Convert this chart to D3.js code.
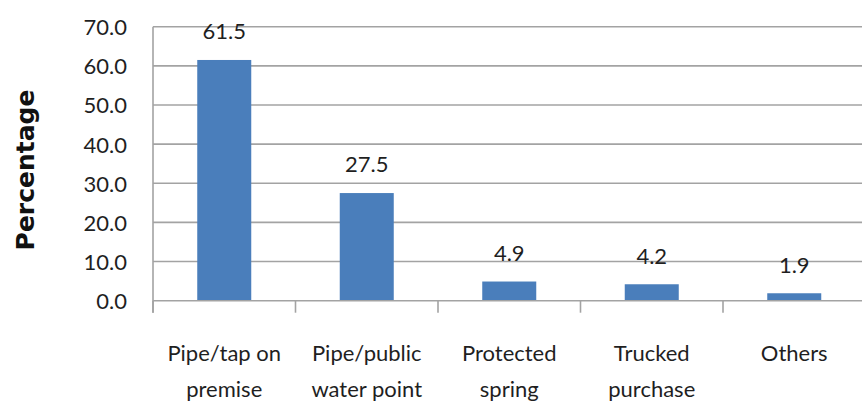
<!DOCTYPE html>
<html>
<head>
<meta charset="utf-8">
<script src="https://cdn.jsdelivr.net/npm/d3@7"></script>
<style>
  html, body { margin: 0; padding: 0; background: #fff; }
  svg { display: block; }
</style>
</head>
<body>
<svg id="chart" width="862" height="403"></svg>
<script>
// Main source of drinking water (% of households)
const categories = [
  ["Pipe/tap on", "premise"],
  ["Pipe/public", "water point"],
  ["Protected", "spring"],
  ["Trucked", "purchase"],
  ["Others"]
];
const values = [61.5, 27.5, 4.9, 4.2, 1.9];
const yTicks = [0, 10, 20, 30, 40, 50, 60, 70];
const yTitle = "Percentage";

const svg = d3.select("#chart");
const fontFamily = "Lato, 'Open Sans', sans-serif";

const plot = { left: 153, right: 865.5, top: 26.7, bottom: 300.7 };

const x = d3.scaleBand()
  .domain(d3.range(categories.length))
  .range([plot.left, plot.right])
  .paddingInner(0.621)
  .paddingOuter(0.3105);

const y = d3.scaleLinear()
  .domain([0, 70])
  .range([plot.bottom, plot.top]);

const gridColor = "#a3a3a3";
const textColor = "#1f1f1f";

// Horizontal gridlines
svg.append("g")
  .selectAll("line")
  .data(yTicks.filter(d => d > 0))
  .join("line")
  .attr("x1", plot.left)
  .attr("x2", 862)
  .attr("y1", d => y(d))
  .attr("y2", d => y(d))
  .attr("stroke", gridColor)
  .attr("stroke-width", 1.6);

// Y axis (labels only, line drawn separately)
const yAxis = svg.append("g")
  .attr("transform", `translate(${plot.left - 26},0)`)
  .call(d3.axisLeft(y).tickValues(yTicks).tickFormat(d3.format(".1f")).tickSize(0).tickPadding(0));
yAxis.select(".domain").remove();
yAxis.selectAll("text")
  .attr("font-family", fontFamily)
  .attr("font-size", 22)
  .attr("fill", textColor)
  .attr("dy", "0.36em");

// Bars
svg.append("g")
  .selectAll("rect")
  .data(values)
  .join("rect")
  .attr("x", (d, i) => x(i))
  .attr("width", x.bandwidth())
  .attr("y", d => y(d))
  .attr("height", d => y(0) - y(d))
  .attr("fill", "#4a7ebb");

// Axis lines
svg.append("line")
  .attr("x1", plot.left).attr("x2", plot.left)
  .attr("y1", plot.top).attr("y2", plot.bottom + 12)
  .attr("stroke", gridColor).attr("stroke-width", 1.6);

const xAxis = svg.append("g")
  .attr("transform", `translate(0,${plot.bottom})`);
xAxis.append("line")
  .attr("x1", plot.left).attr("x2", 862)
  .attr("y1", 0).attr("y2", 0)
  .attr("stroke", gridColor).attr("stroke-width", 1.6);
const step = x.step();
xAxis.selectAll("line.tick")
  .data(d3.range(categories.length + 1))
  .join("line")
  .attr("class", "tick")
  .attr("x1", i => plot.left + i * step)
  .attr("x2", i => plot.left + i * step)
  .attr("y1", 0).attr("y2", 12)
  .attr("stroke", gridColor).attr("stroke-width", 1.6);

// Category labels
const catLabels = svg.append("g")
  .selectAll("text")
  .data(categories)
  .join("text")
  .attr("x", (d, i) => x(i) + x.bandwidth() / 2)
  .attr("y", 361)
  .attr("text-anchor", "middle")
  .attr("font-family", fontFamily)
  .attr("font-size", 22)
  .attr("fill", textColor);
catLabels.selectAll("tspan")
  .data(d => d)
  .join("tspan")
  .attr("x", function () { return this.parentNode.getAttribute("x"); })
  .attr("dy", (d, j) => j === 0 ? 0 : 36)
  .text(d => d);

// Value labels
svg.append("g")
  .selectAll("text")
  .data(values)
  .join("text")
  .attr("x", (d, i) => x(i) + x.bandwidth() / 2)
  .attr("y", d => y(d) - 28.5)
  .attr("dy", "0.36em")
  .attr("text-anchor", "middle")
  .attr("font-family", fontFamily)
  .attr("font-size", 22)
  .attr("fill", textColor)
  .text(d => d3.format(".1f")(d));

// Y axis title
svg.append("text")
  .attr("transform", `translate(25,170) rotate(-90)`)
  .attr("text-anchor", "middle")
  .attr("dy", "0.36em")
  .attr("font-family", "'DejaVu Sans', sans-serif")
  .attr("font-weight", "bold")
  .attr("font-size", 25)
  .attr("fill", "#111")
  .text(yTitle);
</script>
</body>
</html>
